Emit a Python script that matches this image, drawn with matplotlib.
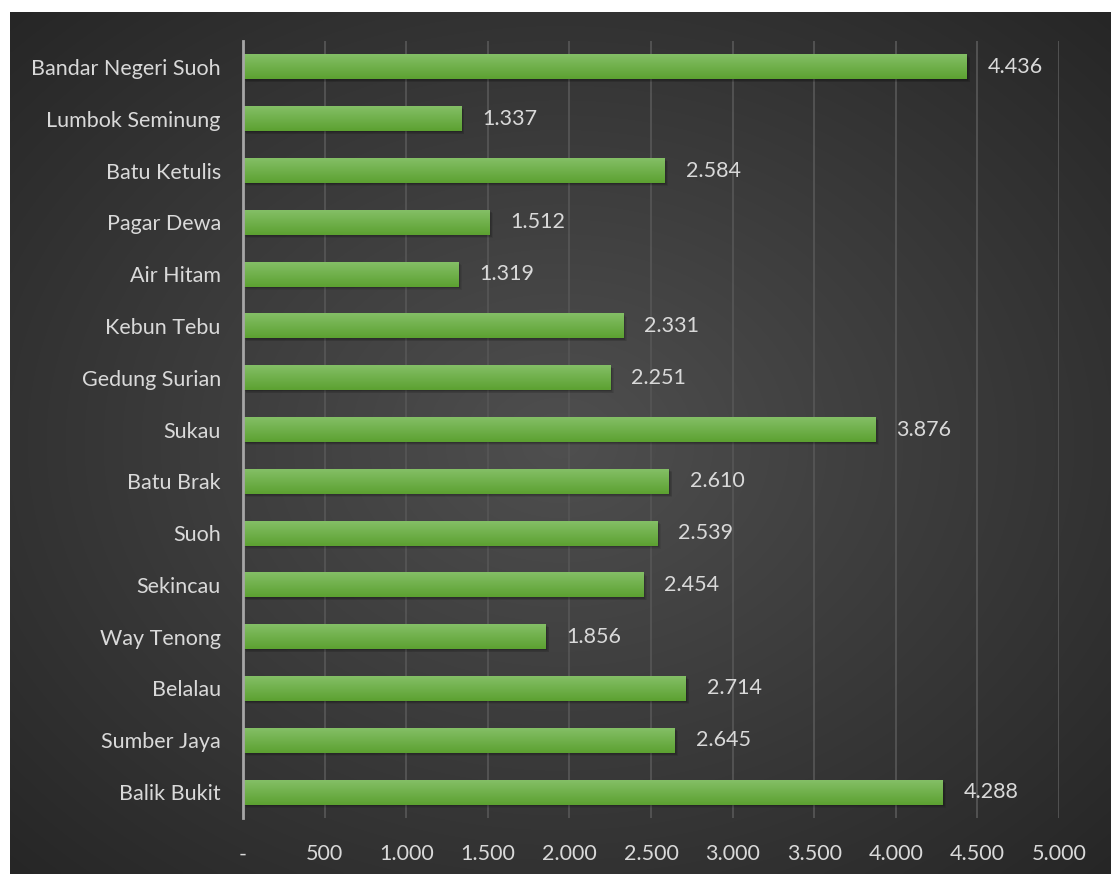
import numpy as np
import matplotlib.pyplot as plt

# data (bottom to top as drawn)
kecamatan = ["Balik Bukit", "Sumber Jaya", "Belalau", "Way Tenong", "Sekincau",
             "Suoh", "Batu Brak", "Sukau", "Gedung Surian", "Kebun Tebu",
             "Air Hitam", "Pagar Dewa", "Batu Ketulis", "Lumbok Seminung",
             "Bandar Negeri Suoh"]
jumlah = [4288, 2645, 2714, 1856, 2454, 2539, 2610, 3876, 2251, 2331,
          1319, 1512, 2584, 1337, 4436]
xticks = [0, 500, 1000, 1500, 2000, 2500, 3000, 3500, 4000, 4500, 5000]
xticklabels = ["-", "500", "1.000", "1.500", "2.000", "2.500", "3.000",
               "3.500", "4.000", "4.500", "5.000"]

plt.rcParams['font.family'] = ['Lato', 'DejaVu Sans']
txt_color = '#d9d9d9'
fsize = 15.5

fig = plt.figure(figsize=(11.11, 8.74), dpi=100)
fig.patch.set_facecolor('white')

# dark panel with radial gradient
bg = fig.add_axes([10 / 1111, 0, 1 - 10 / 1111, 1 - 12 / 874])
bg.set_axis_off()
yy, xx = np.mgrid[0:1:300j, 0:1:380j]
r = np.sqrt(((xx - 0.5) / 0.75) ** 2 + ((yy - 0.5) / 0.75) ** 2)
shade = 0.31 - 0.17 * np.clip(r, 0, 1)
bg.imshow(np.dstack([shade] * 3), aspect='auto', extent=[0, 1, 0, 1],
          interpolation='bicubic')
bg.set_xlim(0, 1)
bg.set_ylim(0, 1)

ax = fig.add_axes([243 / 1111, 1 - 818 / 874, (1059 - 243) / 1111, (818 - 41) / 874])
ax.patch.set_alpha(0)

ypos = np.arange(len(kecamatan))
h = 0.48

# soft shadows (a few faint offset layers)
for k in range(1, 6):
    ax.barh(ypos - 0.012 * k, jumlah, height=h, left=4 * k, color='black',
            alpha=0.07, zorder=2, linewidth=0)
bars = ax.barh(ypos, jumlah, height=h, color='#6aad42', zorder=3, linewidth=0)

# vertical gradient on each bar
grad = np.linspace(0, 1, 64).reshape(-1, 1)
top_c = np.array([0x84, 0xbf, 0x66]) / 255
bot_c = np.array([0x5c, 0xa1, 0x31]) / 255
grad_img = (bot_c[None, None, :] * (1 - grad[:, :, None]) +
            top_c[None, None, :] * grad[:, :, None])
for b in bars:
    ax.imshow(grad_img, aspect='auto', origin='lower', zorder=4,
              extent=[b.get_x(), b.get_x() + b.get_width(),
                      b.get_y(), b.get_y() + b.get_height()])

for y, v in zip(ypos, jumlah):
    ax.text(v + 128, y, f"{v:,}".replace(',', '.'), va='center', ha='left',
            color=txt_color, fontsize=fsize, zorder=5)

ax.set_xlim(0, 5000)
ax.set_ylim(-0.5, len(kecamatan) - 0.5)
ax.set_xticks(xticks)
ax.set_xticklabels(xticklabels)
ax.set_yticks(ypos)
ax.set_yticklabels(kecamatan)
ax.tick_params(axis='both', length=0, labelsize=fsize, labelcolor=txt_color)
ax.tick_params(axis='y', pad=16)
ax.tick_params(axis='x', pad=19)
ax.grid(axis='x', color='#555555', linewidth=1.3, zorder=1)
ax.set_axisbelow(True)
for s in ['top', 'right', 'bottom']:
    ax.spines[s].set_visible(False)
ax.spines['left'].set_color('#a6a6a6')
ax.spines['left'].set_linewidth(2)
ax.spines['left'].set_zorder(6)

fig.savefig('out.png', dpi=100)
